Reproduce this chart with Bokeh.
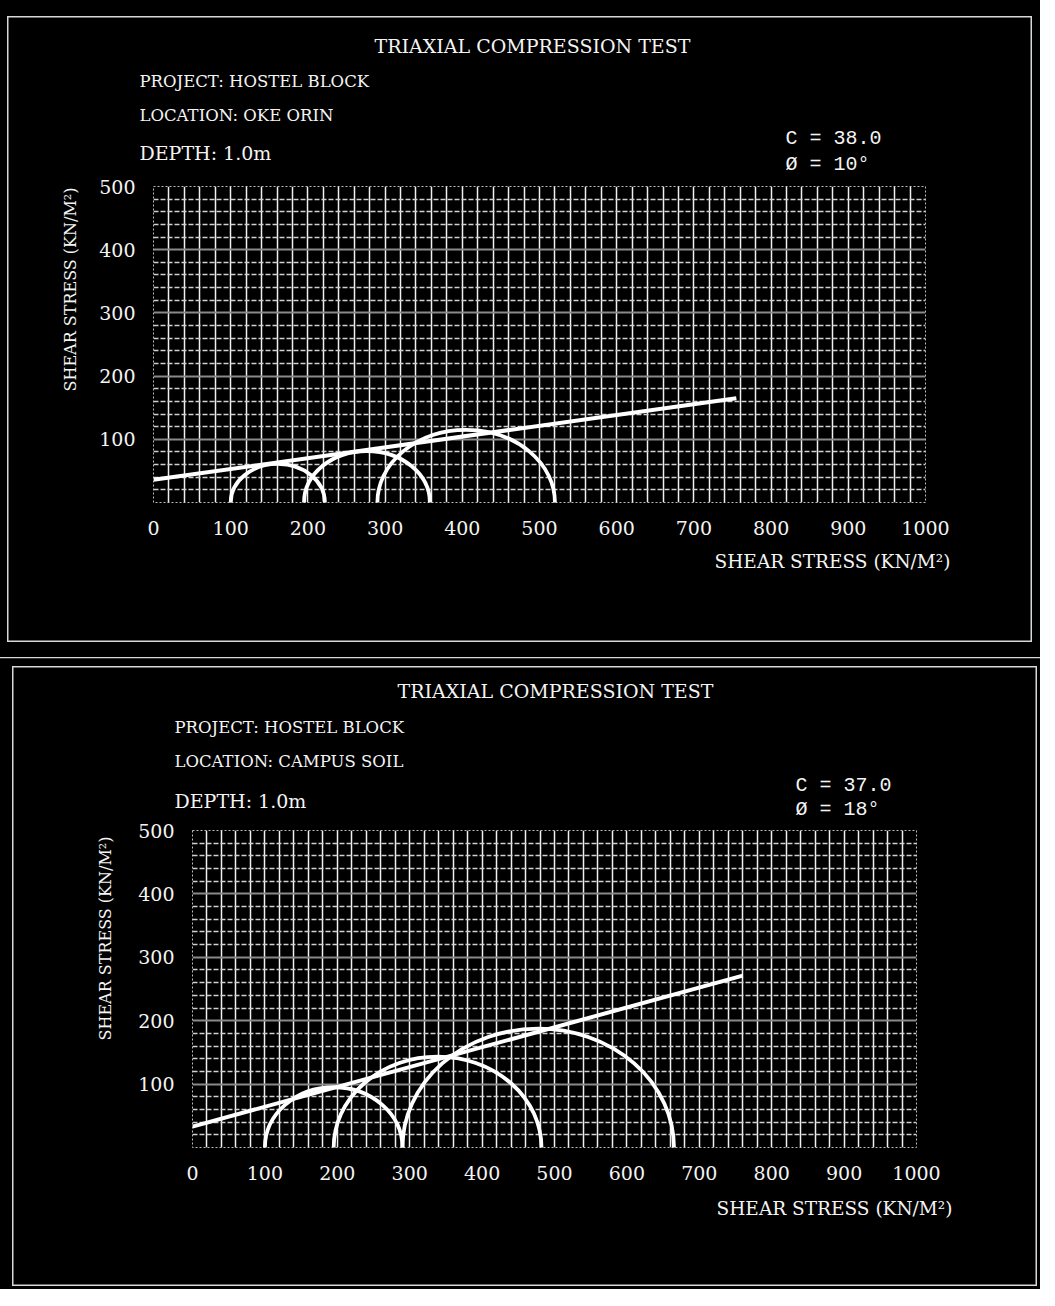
import math
from bokeh.plotting import figure
from bokeh.models import Label, FixedTicker, Range1d, Grid, SingleIntervalTicker
from bokeh.embed import file_html
from bokeh.resources import INLINE

# ---------------- data ----------------
x_ticks = [0, 100, 200, 300, 400, 500, 600, 700, 800, 900, 1000]
y_ticks = [100, 200, 300, 400, 500]

chart_title = "TRIAXIAL COMPRESSION TEST"
axis_title = "SHEAR STRESS (KN/M²)"

top_info = ["PROJECT: HOSTEL BLOCK", "LOCATION: OKE ORIN", "DEPTH: 1.0m"]
top_params = ["C = 38.0", "Ø = 10°"]
top_sigma3 = [100, 195, 290]
top_sigma1 = [222, 358, 520]
top_env_sigma = [0, 755]
top_env_tau = [36, 165]

bot_info = ["PROJECT: HOSTEL BLOCK", "LOCATION: CAMPUS SOIL", "DEPTH: 1.0m"]
bot_params = ["C = 37.0", "Ø = 18°"]
bot_sigma3 = [100, 195, 290]
bot_sigma1 = [290, 482, 665]
bot_env_sigma = [0, 760]
bot_env_tau = [33, 271]

WHITE = "#f4f4f4"
SERIF = "DejaVu Serif"
RING = "#d8d8d8"


def shadow(bands):
    parts = []
    for side, t, col in bands:
        if side == "top":
            parts.append(f"inset 0 {t}px 0 0 {col}")
        elif side == "bottom":
            parts.append(f"inset 0 -{t}px 0 0 {col}")
        elif side == "left":
            parts.append(f"inset {t}px 0 0 0 {col}")
        else:
            parts.append(f"inset -{t}px 0 0 0 {col}")
    return ", ".join(parts)


def make_panel(height, mb_left, mb_right, mb_top, mb_bottom, page_top,
               sigma3, sigma1, env_s, env_t, info, params, pos, bands):
    W = 1040
    p = figure(width=W, height=height, output_backend="svg",
               toolbar_location=None, x_range=Range1d(0, 1000),
               y_range=Range1d(0, 500), min_border_left=mb_left,
               min_border_right=mb_right, min_border_top=mb_top,
               min_border_bottom=mb_bottom)
    p.background_fill_color = "black"
    p.border_fill_color = None
    p.outline_line_color = "#bbbbbb"
    p.outline_line_dash = "2 2"
    p.styles = {"background-color": "black", "box-shadow": shadow(bands)}

    frame_w = W - mb_left - mb_right
    frame_h = height - mb_top - mb_bottom
    sx = frame_w / 1000.0
    sy = frame_h / 500.0
    fl = 8 + mb_left                  # page x of frame left
    fb = page_top + mb_top + frame_h  # page y of frame bottom

    def dx(px):
        return (px - fl) / sx

    def dy(py):
        return (fb - py) / sy

    # grids
    p.xgrid[0].ticker = SingleIntervalTicker(interval=20, num_minor_ticks=0)
    p.xgrid[0].grid_line_color = "#f0f0f0"
    p.xgrid[0].grid_line_width = 1.5
    p.ygrid[0].ticker = FixedTicker(ticks=[v for v in range(20, 500, 20) if v % 100])
    p.ygrid[0].grid_line_color = "#d0d0d0"
    p.ygrid[0].grid_line_width = 1.4
    p.ygrid[0].grid_line_dash = "5 2"
    major = Grid(dimension=1, ticker=FixedTicker(ticks=y_ticks),
                 grid_line_color="#8a8a8a", grid_line_width=2.2)
    p.add_layout(major)

    # axes
    p.xaxis.ticker = FixedTicker(ticks=x_ticks)
    p.yaxis.ticker = FixedTicker(ticks=y_ticks)
    for ax in (p.xaxis[0], p.yaxis[0]):
        ax.axis_line_color = None
        ax.major_tick_line_color = None
        ax.minor_tick_line_color = None
        ax.major_label_text_color = WHITE
        ax.major_label_text_font = SERIF
        ax.major_label_text_font_size = "19px"
        ax.major_label_standoff = 12

    # Mohr circles
    centers = [(a + b) / 2.0 for a, b in zip(sigma3, sigma1)]
    diam = [b - a for a, b in zip(sigma3, sigma1)]
    p.ellipse(x=centers, y=[0] * len(centers), width=diam, height=diam,
              fill_color=None, line_color="white", line_width=3.8)
    # failure envelope
    p.line(env_s, env_t, line_color="white", line_width=4)

    # texts (placed in the side panels so they are not clipped to the frame)
    def lab(place, px, py, text, size, align="left", font=SERIF, angle=0.0):
        p.add_layout(Label(x=dx(px), y=dy(py), text=text, text_color=WHITE,
                           text_font=font, text_font_size=size,
                           text_align=align, text_baseline="middle",
                           angle=angle), place)

    lab("above", pos["title"][0], pos["title"][1], chart_title, "19px", "center")
    lab("above", pos["info_x"], pos["info_y"][0], info[0], "16.5px")
    lab("above", pos["info_x"], pos["info_y"][1], info[1], "16.5px")
    lab("above", pos["info_x"], pos["info_y"][2], info[2], "19px")
    lab("above", pos["par_x"], pos["par_y"][0], params[0], "20px", font="Liberation Mono")
    lab("above", pos["par_x"], pos["par_y"][1], params[1], "20px", font="Liberation Mono")
    lab("left", pos["ytitle"][0], pos["ytitle"][1], axis_title, "16px", "center",
        angle=math.pi / 2)
    lab("below", pos["xtitle"][0], pos["xtitle"][1], axis_title, "18.5px", "center")
    return p


top_pos = {"title": (540, 53), "info_x": 147, "info_y": (89, 123, 160),
           "par_x": 793, "par_y": (146, 172), "ytitle": (78, 297),
           "xtitle": (840, 569)}
bot_pos = {"title": (563, 698), "info_x": 182, "info_y": (735, 769, 808),
           "par_x": 803, "par_y": (793, 817), "ytitle": (113, 946),
           "xtitle": (842, 1216)}

top_bands = [("top", 16, "#000"), ("left", 7, "#000"), ("right", 8, "#000"),
             ("bottom", 9, "#000"),
             ("top", 17.5, RING), ("left", 8.5, RING), ("right", 9.5, RING),
             ("bottom", 10.5, RING)]
bot_bands = [("top", 6, "#000"), ("top", 7.2, RING), ("top", 15, "#000"),
             ("left", 12, "#000"), ("right", 3, "#000"), ("bottom", 3, "#000"),
             ("top", 16.5, RING), ("left", 13.5, RING), ("right", 4.5, RING),
             ("bottom", 4.5, RING)]

p1 = make_panel(651, 153, 115, 186, 149, 8, top_sigma3, top_sigma1,
                top_env_sigma, top_env_tau, top_info, top_params, top_pos,
                top_bands)
p2 = make_panel(638, 192, 124, 179, 142, 659, bot_sigma3, bot_sigma1,
                bot_env_sigma, bot_env_tau, bot_info, bot_params, bot_pos,
                bot_bands)

open("out.html", "w").write(file_html([p1, p2], INLINE))
